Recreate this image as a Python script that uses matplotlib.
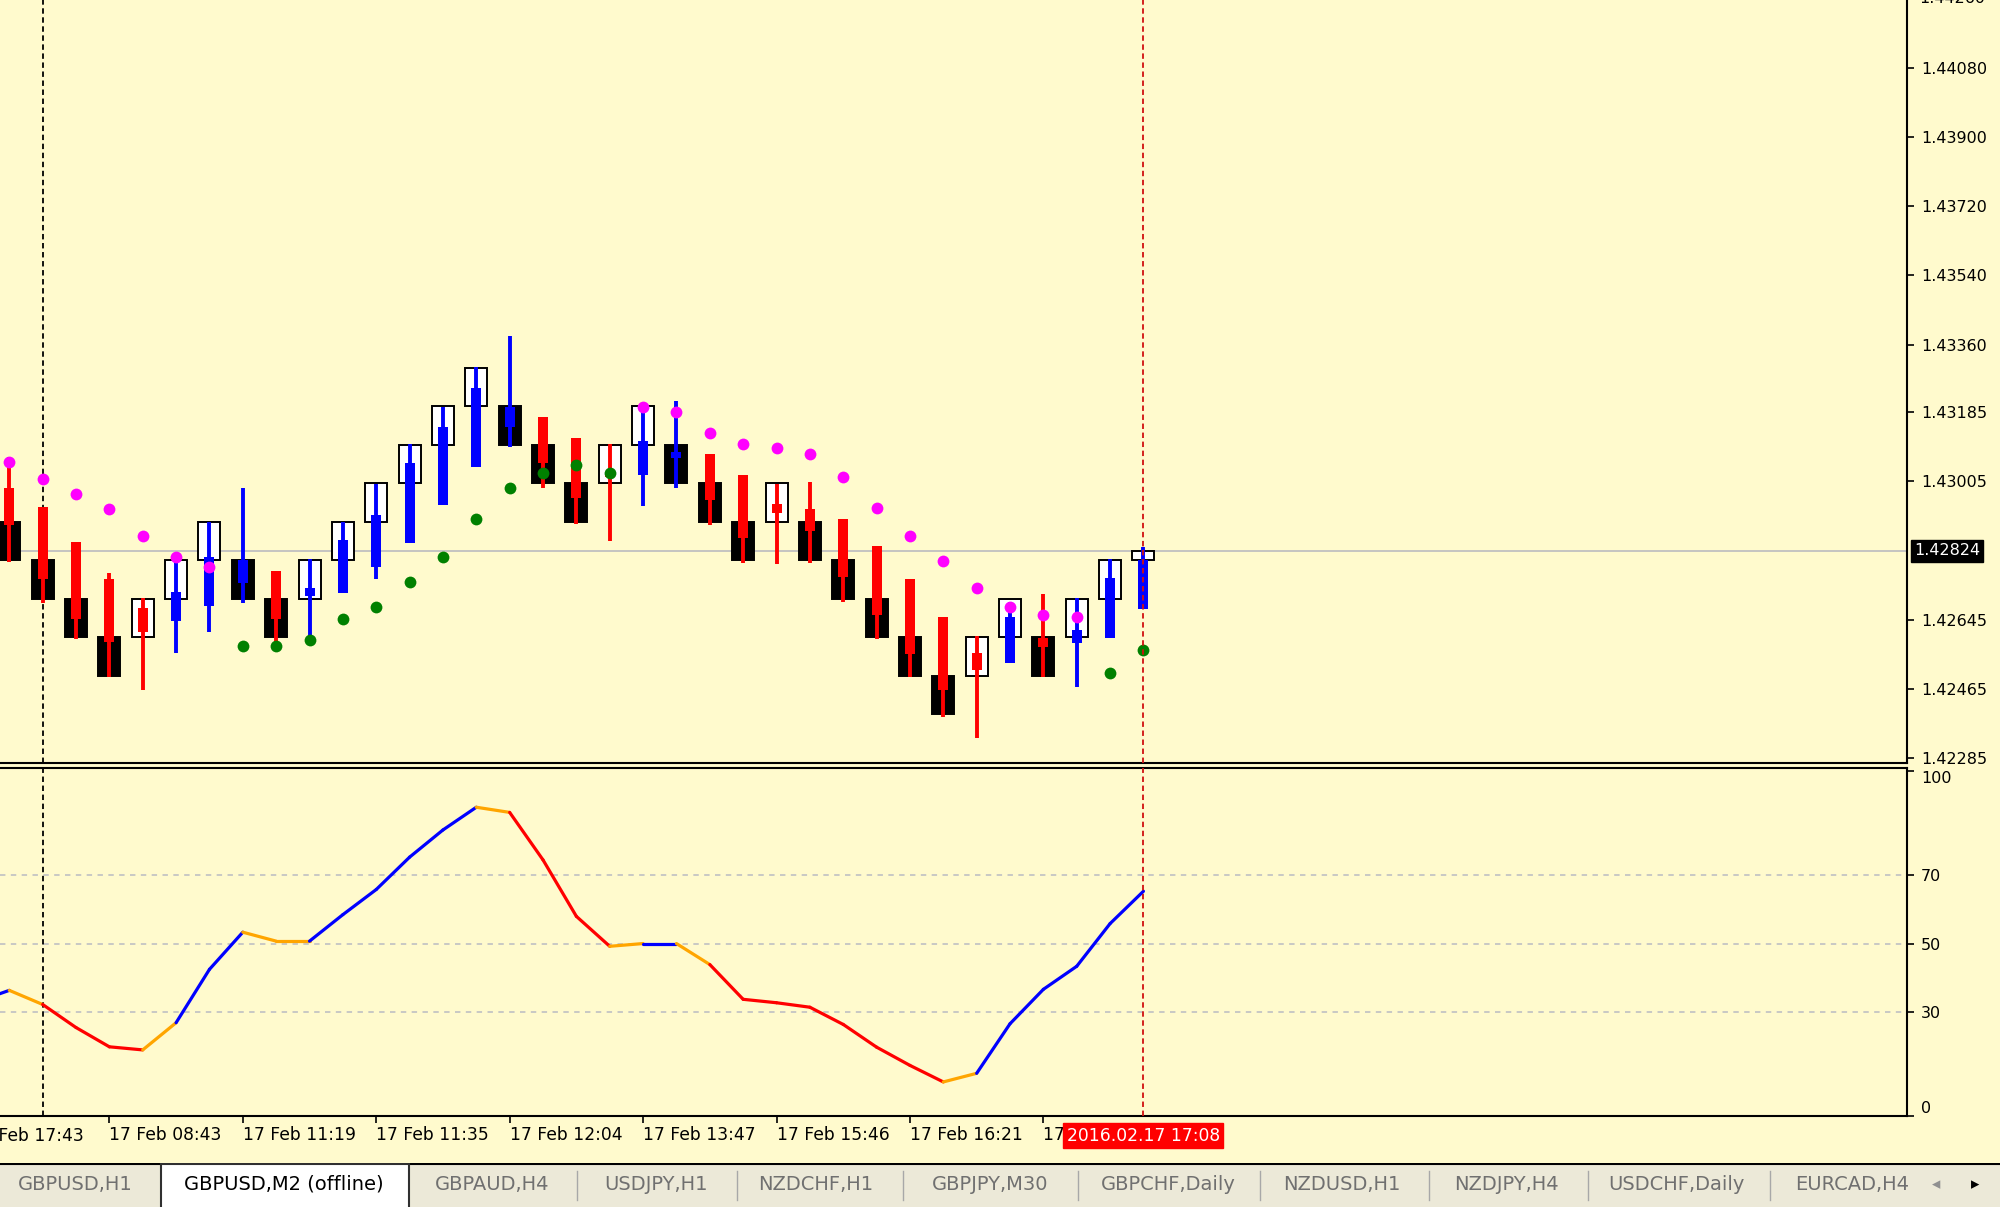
import numpy as np
import matplotlib
matplotlib.use('Agg')
import matplotlib.pyplot as plt
import matplotlib.transforms as mtransforms
from matplotlib.patches import Rectangle

plt.rcParams['font.family'] = ['DejaVu Sans']

# renko bricks (10 pip), GBPUSD M2 offline
renko_open = [1.4290, 1.4280, 1.4270, 1.4260, 1.4260, 1.4270, 1.4280, 1.4280, 1.4270, 1.4270,
              1.4280, 1.4290, 1.4300, 1.4310, 1.4320, 1.4320, 1.4310, 1.4300, 1.4300, 1.4310,
              1.4310, 1.4300, 1.4290, 1.4290, 1.4290, 1.4280, 1.4270, 1.4260, 1.4250, 1.4250,
              1.4260, 1.4260, 1.4260, 1.4270, 1.4280]
renko_close = [1.4280, 1.4270, 1.4260, 1.4250, 1.4270, 1.4280, 1.4290, 1.4270, 1.4260, 1.4280,
               1.4290, 1.4300, 1.4310, 1.4320, 1.4330, 1.4310, 1.4300, 1.4290, 1.4310, 1.4320,
               1.4300, 1.4290, 1.4280, 1.4300, 1.4280, 1.4270, 1.4260, 1.4250, 1.4240, 1.4260,
               1.4270, 1.4250, 1.4270, 1.4280, 1.42824]

# overlay candles (thin coloured bars)
ov_open = [1.42988, 1.42939, 1.42848, 1.42750, 1.42675, 1.42642, 1.42681, 1.42740, 1.42772, 1.42707,
           1.42716, 1.42783, 1.42846, 1.42944, 1.43041, 1.43147, 1.43172, 1.43117, 1.43030, 1.43022,
           1.43065, 1.43075, 1.43022, 1.42945, 1.42933, 1.42906, 1.42837, 1.42750, 1.42652, 1.42560,
           1.42532, 1.42597, 1.42584, 1.42597, 1.42672]
ov_high = [1.43069, 1.42939, 1.42848, 1.42766, 1.42701, 1.42802, 1.42900, 1.42989, 1.42772, 1.42802,
           1.42900, 1.42997, 1.43101, 1.43199, 1.43302, 1.43384, 1.43172, 1.43117, 1.43101, 1.43199,
           1.43215, 1.43075, 1.43022, 1.42997, 1.43004, 1.42906, 1.42837, 1.42750, 1.42652, 1.42603,
           1.42692, 1.42712, 1.42701, 1.42802, 1.42835]
ov_low = [1.42796, 1.42690, 1.42594, 1.42496, 1.42464, 1.42560, 1.42614, 1.42690, 1.42588, 1.42588,
          1.42716, 1.42750, 1.42846, 1.42944, 1.43041, 1.43093, 1.42989, 1.42893, 1.42850, 1.42941,
          1.42989, 1.42892, 1.42794, 1.42789, 1.42794, 1.42692, 1.42594, 1.42497, 1.42393, 1.42339,
          1.42532, 1.42497, 1.42470, 1.42597, 1.42672]
ov_close = [1.42892, 1.42750, 1.42647, 1.42588, 1.42614, 1.42718, 1.42809, 1.42801, 1.42647, 1.42729,
            1.42853, 1.42918, 1.43052, 1.43146, 1.43247, 1.43198, 1.43052, 1.42963, 1.43017, 1.43111,
            1.43081, 1.42957, 1.42859, 1.42924, 1.42876, 1.42757, 1.42658, 1.42556, 1.42464, 1.42515,
            1.42653, 1.42575, 1.42619, 1.42753, 1.42801]

# parabolic SAR dots and trend (1 = up/green, -1 = down/magenta)
sar = [1.43054, 1.43010, 1.42972, 1.42934, 1.42864, 1.42809, 1.42782, 1.42577, 1.42577, 1.42593,
       1.42646, 1.42679, 1.42744, 1.42809, 1.42907, 1.42989, 1.43026, 1.43048, 1.43026, 1.43199,
       1.43184, 1.43130, 1.43102, 1.43091, 1.43075, 1.43016, 1.42935, 1.42864, 1.42798, 1.42729,
       1.42679, 1.42658, 1.42652, 1.42506, 1.42567]
sar_dir = [-1] * 7 + [1] * 12 + [-1] * 14 + [1] * 2

# oscillator in lower window, first value belongs to the bar left of the screen
osc = [33.0, 36.4, 32.3, 25.6, 20.0, 19.1, 27.0, 42.5, 53.3, 50.7, 50.7, 58.4, 65.7, 75.1, 83.0,
       89.6, 88.1, 74.3, 57.9, 49.2, 50.0, 50.0, 43.9, 33.8, 32.8, 31.5, 26.5, 19.9, 14.6, 9.8,
       12.3, 26.7, 36.7, 43.4, 55.8, 65.2]
osc_state = ['u', 't', 'd', 'd', 'd', 't', 'u', 'u', 't', 't', 'u', 'u', 'u', 'u', 'u', 't', 'd', 'd',
             'd', 't', 'u', 't', 'd', 'd', 'd', 'd', 'd', 'd', 'd', 't', 'u', 'u', 'u', 'u', 'u']
osc_levels = [30, 50, 70]

price_ticks = [1.42285, 1.42465, 1.42645, 1.43005, 1.43185, 1.43360, 1.43540, 1.43720, 1.43900, 1.44080]
last_price = 1.42824

time_pos = [3, 7, 11, 15, 19, 23, 27, 31]
time_labels = ['17 Feb 08:43', '17 Feb 11:19', '17 Feb 11:35', '17 Feb 12:04',
               '17 Feb 13:47', '17 Feb 15:46', '17 Feb 16:21', '17 Feb 16:49']
first_label = '16 Feb 17:43'
cursor_label = '2016.02.17 17:08'

tabs = ['GBPUSD,H1', 'GBPUSD,M2 (offline)', 'GBPAUD,H4', 'USDJPY,H1', 'NZDCHF,H1', 'GBPJPY,M30',
        'GBPCHF,Daily', 'NZDUSD,H1', 'NZDJPY,H4', 'USDCHF,Daily', 'EURCAD,H4']

bg = '#FFFACD'
W, H = 2000.0, 1207.0


def box(x0, y0, x1, y1):
    # pixel box (from top left) -> figure fraction
    return [x0 / W, 1 - y1 / H, (x1 - x0) / W, (y1 - y0) / H]


fig = plt.figure(figsize=(20, 12.07), dpi=100, facecolor=bg)
ax1 = fig.add_axes(box(0, 0, 1907, 763))
ax2 = fig.add_axes(box(0, 768, 1907, 1116))

xs = np.arange(len(renko_open))
ro = np.array(renko_open)
rc = np.array(renko_close)
oo = np.array(ov_open)
oc = np.array(ov_close)

xlim = (-0.279, 56.89)
for ax in (ax1, ax2):
    ax.set_facecolor(bg)
    ax.set_xlim(*xlim)
    ax.spines['left'].set_visible(False)
    for s in ('right', 'bottom', 'top'):
        ax.spines[s].set_color('black')
        ax.spines[s].set_linewidth(1.5)
    ax.yaxis.tick_right()
    ax.tick_params(axis='y', direction='out', length=5, width=1.2, pad=5, labelsize=11.5)
ax1.spines['top'].set_visible(False)

# --- main window
ax1.axhline(last_price, color='#C0C0C0', lw=1.3, zorder=1)
ax1.bar(xs, rc - ro, bottom=ro, width=0.66,
        color=['white' if c > o else 'black' for o, c in zip(ro, rc)],
        edgecolor='black', linewidth=1.4, zorder=2)
ov_col = ['#0000FF' if c > o else '#FF0000' for o, c in zip(oo, oc)]
ax1.vlines(xs, ov_low, ov_high, colors=ov_col, lw=2.8, zorder=3)
ax1.bar(xs, np.abs(oc - oo), bottom=np.minimum(oo, oc), width=0.3, color=ov_col, zorder=4)
sd = np.array(sar_dir)
sv = np.array(sar)
ax1.plot(xs[sd > 0], sv[sd > 0], 'o', color='#008000', ms=8.5, mec='none', zorder=5)
ax1.plot(xs[sd < 0], sv[sd < 0], 'o', color='#FF00FF', ms=8.5, mec='none', zorder=5)

ax1.set_ylim(1.42273, 1.44256)
ax1.set_yticks(price_ticks, labels=['%.5f' % p for p in price_ticks])
ax1.set_xticks([])

tr1 = mtransforms.blended_transform_factory(ax1.transAxes, ax1.transData)
ax1.text(1919 / 1907, 1.44260, '%.5f' % 1.44260, transform=tr1, fontsize=11.5,
         va='center', ha='left', clip_on=False)
ax1.text(1914 / 1907, last_price, '%.5f' % last_price, transform=tr1, fontsize=11.5,
         color='white', va='center', ha='left', zorder=10,
         bbox=dict(boxstyle='square,pad=0.2', fc='black', ec='black'))

# --- oscillator window
for lv in osc_levels:
    ax2.axhline(lv, color='#C4C4C4', lw=1.3, ls=(0, (3, 3)), zorder=0)
xo = np.arange(-1, len(osc) - 1)
col_map = {'u': '#0000FF', 'd': '#FF0000', 't': '#FFA500'}
for i, st in enumerate(osc_state):
    ax2.plot(xo[i:i + 2], osc[i:i + 2], color=col_map[st], lw=2.3,
             solid_capstyle='round', zorder=3)
ax2.set_ylim(-0.1, 101)
ax2.set_yticks([0, 30, 50, 70, 100], labels=['0', '30', '50', '70', '100'])
for lbl in ax2.get_yticklabels():
    if lbl.get_text() == '100':
        lbl.set_va('top')
    elif lbl.get_text() == '0':
        lbl.set_va('bottom')

tfs = 12.3
ax2.set_xticks(time_pos, labels=time_labels)
ax2.tick_params(axis='x', direction='out', length=5, width=1.2, pad=2, labelsize=tfs)
for lbl in ax2.get_xticklabels():
    lbl.set_ha('left')
tr2 = mtransforms.blended_transform_factory(ax2.transData, ax2.transAxes)
ax2.text(-1 - 0.14, -0.057, first_label, transform=tr2, fontsize=tfs, ha='left', va='center',
         clip_on=False)
ax2.text(34, -0.057, cursor_label, transform=tr2, fontsize=tfs, color='white', ha='center',
         va='center', zorder=10, bbox=dict(boxstyle='square,pad=0.2', fc='#FF0000', ec='#FF0000'))

# vertical lines through both windows
for ax in (ax1, ax2):
    ax.axvline(1, color='black', lw=1.3, ls=(0, (3, 2)), zorder=1)
    ax.axvline(34, color='#D01010', lw=1.3, ls=(0, (3, 2)), zorder=6)

# --- tab bar
axt = fig.add_axes([0, 0, 1, 44 / H])
axt.set_xlim(0, W)
axt.set_ylim(1207, 1163)
axt.set_facecolor('#ECE9D8')
for s in axt.spines.values():
    s.set_visible(False)
axt.set_xticks([])
axt.set_yticks([])
axt.axhline(1164, color='black', lw=1.5)
axt.add_patch(Rectangle((161, 1164), 248, 45, fc='white', ec='#303030', lw=1.5, zorder=2))
for sx in [577, 737, 903, 1078, 1260, 1429, 1588, 1770]:
    axt.plot([sx, sx], [1171, 1200], color='#A8A8A8', lw=1)
tab_x = [75, 284, 492, 656, 816, 990, 1168, 1342, 1506, 1676, 1852]
for i, (tx, name) in enumerate(zip(tab_x, tabs)):
    axt.text(tx, 1184, name, fontsize=14, ha='center', va='center',
             color='black' if i == 1 else '#707070', zorder=3)
axt.text(1936, 1184, '\u25c2', fontsize=12, ha='center', va='center', color='#909090')
axt.text(1975, 1184, '\u25b8', fontsize=12, ha='center', va='center', color='black')

fig.savefig('out.png', dpi=100, facecolor=bg)
